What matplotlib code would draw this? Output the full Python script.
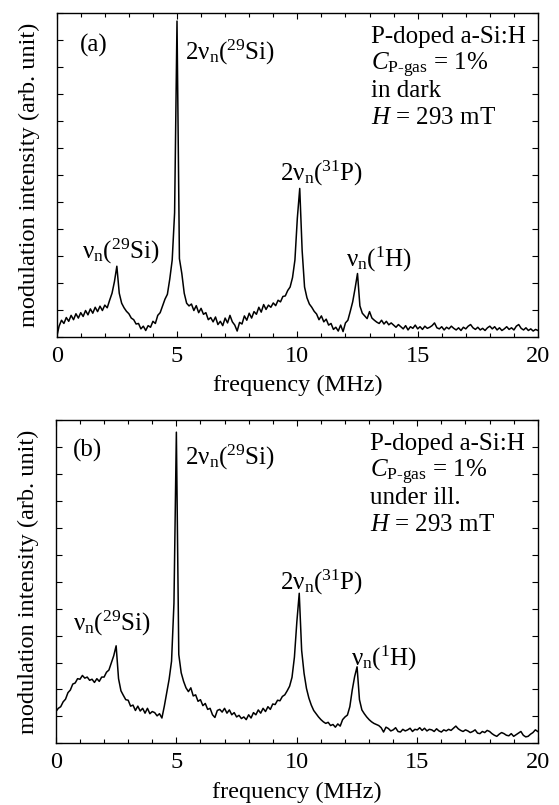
import numpy as np
import matplotlib
matplotlib.use("Agg")
import matplotlib.pyplot as plt
from matplotlib.ticker import MultipleLocator

plt.rcParams['font.family'] = ['Liberation Serif', 'DejaVu Serif']
plt.rcParams['mathtext.fontset'] = 'custom'
plt.rcParams['mathtext.rm'] = 'Liberation Serif'
plt.rcParams['mathtext.it'] = 'Liberation Serif:italic'

# frequency grid (MHz), one reading every 0.1 MHz
freq = np.round(np.arange(0, 201) * 0.1, 1)

# (a) in dark (arb. unit, 12 tick steps full height)
dark = [
    0.00, 0.40, 0.62, 0.50, 0.72, 0.58, 0.80, 0.64, 0.86, 0.70,
    0.90, 0.76, 0.98, 0.82, 1.04, 0.88, 1.10, 0.94, 1.14, 0.98,
    1.18, 1.08, 1.36, 1.62, 2.05, 2.62, 1.62, 1.25, 1.08, 0.95,
    0.86, 0.70, 0.64, 0.48, 0.50, 0.30, 0.40, 0.24, 0.42, 0.36,
    0.58, 0.50, 0.80, 0.90, 1.15, 1.40, 1.58, 2.15, 2.85, 4.60,
    11.70, 2.90, 2.35, 1.62, 1.25, 1.15, 1.22, 0.98, 1.16, 0.90,
    1.06, 0.84, 0.90, 0.64, 0.72, 0.56, 0.74, 0.46, 0.58, 0.42,
    0.70, 0.52, 0.80, 0.56, 0.44, 0.22, 0.54, 0.48, 0.78, 0.62,
    0.88, 0.70, 0.94, 0.84, 1.10, 0.92, 1.20, 1.02, 1.18, 1.10,
    1.26, 1.16, 1.36, 1.30, 1.50, 1.52, 1.72, 1.85, 2.20, 2.85,
    4.40, 5.50, 3.20, 1.85, 1.45, 1.22, 1.10, 0.95, 0.85, 0.64,
    0.78, 0.56, 0.66, 0.44, 0.50, 0.28, 0.36, 0.22, 0.44, 0.20,
    0.52, 0.62, 0.95, 1.30, 1.80, 2.35, 1.15, 0.88, 0.78, 0.68,
    0.94, 0.70, 0.62, 0.55, 0.50, 0.62, 0.48, 0.58, 0.45, 0.52,
    0.44, 0.36, 0.46, 0.38, 0.30, 0.42, 0.26, 0.38, 0.32, 0.44,
    0.30, 0.38, 0.28, 0.40, 0.32, 0.36, 0.42, 0.52, 0.34, 0.30,
    0.38, 0.26, 0.36, 0.30, 0.40, 0.32, 0.26, 0.34, 0.24, 0.36,
    0.30, 0.40, 0.46, 0.34, 0.28, 0.36, 0.26, 0.32, 0.24, 0.34,
    0.40, 0.30, 0.38, 0.26, 0.34, 0.24, 0.30, 0.38, 0.28, 0.34,
    0.26, 0.40, 0.46, 0.32, 0.26, 0.34, 0.24, 0.30, 0.22, 0.28,
    0.24,
]

# (b) under illumination
light = [
    1.18, 1.30, 1.36, 1.54, 1.64, 1.88, 1.98, 2.20, 2.24, 2.40,
    2.38, 2.52, 2.42, 2.46, 2.34, 2.38, 2.26, 2.40, 2.30, 2.46,
    2.46, 2.64, 2.72, 2.98, 3.25, 3.62, 2.40, 1.95, 1.78, 1.62,
    1.60, 1.38, 1.42, 1.22, 1.38, 1.20, 1.30, 1.12, 1.30, 1.10,
    1.18, 1.14, 1.02, 1.10, 0.94, 1.38, 1.88, 2.38, 3.05, 5.20,
    11.55, 3.30, 2.62, 2.30, 2.06, 1.92, 2.06, 1.76, 1.80, 1.56,
    1.62, 1.40, 1.48, 1.26, 1.30, 1.06, 0.96, 1.22, 1.26, 1.16,
    1.30, 1.12, 1.24, 1.06, 1.14, 0.98, 1.04, 0.92, 0.98, 0.88,
    1.06, 0.94, 1.14, 1.06, 1.24, 1.12, 1.30, 1.18, 1.36, 1.26,
    1.46, 1.44, 1.60, 1.58, 1.74, 1.80, 1.95, 2.12, 2.45, 3.20,
    4.50, 5.57, 3.45, 2.60, 2.04, 1.68, 1.42, 1.22, 1.10, 0.98,
    0.88, 0.80, 0.74, 0.78, 0.66, 0.70, 0.60, 0.72, 0.64, 0.88,
    0.98, 1.05, 1.36, 1.98, 2.48, 2.84, 1.62, 1.24, 1.10, 0.98,
    0.88, 0.80, 0.74, 0.70, 0.66, 0.58, 0.42, 0.60, 0.55, 0.46,
    0.50, 0.58, 0.44, 0.42, 0.52, 0.46, 0.50, 0.56, 0.44, 0.52,
    0.50, 0.58, 0.48, 0.56, 0.46, 0.52, 0.50, 0.44, 0.54, 0.46,
    0.42, 0.50, 0.46, 0.52, 0.48, 0.56, 0.64, 0.54, 0.48, 0.44,
    0.50, 0.46, 0.40, 0.44, 0.50, 0.38, 0.36, 0.44, 0.40, 0.48,
    0.44, 0.36, 0.30, 0.26, 0.34, 0.40, 0.36, 0.30, 0.28, 0.36,
    0.26, 0.32, 0.38, 0.44, 0.30, 0.24, 0.26, 0.34, 0.40, 0.50,
    0.44,
]

panel_tags = ['(a)', '(b)']
conditions = ['in dark', 'under ill.']

peak_labels = [r'ν$_{\mathrm{n}}$($^{29}$Si)', r'2ν$_{\mathrm{n}}$($^{29}$Si)',
               r'2ν$_{\mathrm{n}}$($^{31}$P)', r'ν$_{\mathrm{n}}$($^{1}$H)']
# label anchor (freq, intensity) for each panel
peak_pos_a = [(1.05, 2.92), (5.33, 10.26), (9.28, 5.81), (12.02, 2.60)]
peak_pos_b = [(0.72, 4.20), (5.37, 10.33), (9.30, 5.69), (12.23, 2.90)]

fig = plt.figure(figsize=(5.59, 8.05), dpi=100)
ax_a = fig.add_axes([0.1014, 0.5814, 0.861, 0.4025])
ax_b = fig.add_axes([0.1000, 0.0766, 0.862, 0.4016])

fs = 17.5
fs_note = 18
for ax, y, tag, cond, ppos in [(ax_a, dark, panel_tags[0], conditions[0], peak_pos_a),
                               (ax_b, light, panel_tags[1], conditions[1], peak_pos_b)]:
    ax.plot(freq, y, color='black', lw=1.1)
    ax.set_xlim(0, 20)
    ax.set_ylim(0, 12)
    ax.xaxis.set_major_locator(MultipleLocator(5))
    ax.xaxis.set_minor_locator(MultipleLocator(1))
    ax.yaxis.set_major_locator(MultipleLocator(1))
    ax.set_yticklabels([])
    ax.tick_params(which='both', direction='in', top=True, right=True, width=0.8)
    ax.tick_params(which='major', length=4)
    ax.tick_params(which='minor', length=3)
    ax.tick_params(axis='x', labelsize=fs, pad=6.5)
    ax.tick_params(axis='y', length=4)
    for s in ax.spines.values():
        s.set_linewidth(1.0)

    ax.set_xlabel('frequency (MHz)', fontsize=fs)
    ax.xaxis.set_label_coords(0.5, -0.118)
    ax.set_ylabel('modulation intensity (arb. unit)', fontsize=fs)
    ax.yaxis.set_label_coords(-0.035, 0.5)

    ty = 10.57 if tag == '(a)' else 10.64
    tx = 0.97 if tag == '(a)' else 0.72
    ax.text(tx, ty, tag, fontsize=fs_note, va='baseline')

    for lab, (px, py) in zip(peak_labels, ppos):
        ax.text(px, py, lab, fontsize=fs_note, va='baseline')

    info = ['P-doped a-Si:H', r'$\mathit{C}_{\mathrm{P\text{-}gas}}$ = 1%', cond,
            r'$\mathit{H}$ = 293 mT']
    for i, line in enumerate(info):
        ax.text(13.05, 10.88 - i * 1.0, line, fontsize=fs_note, va='baseline')

fig.savefig('out.png', dpi=100)
